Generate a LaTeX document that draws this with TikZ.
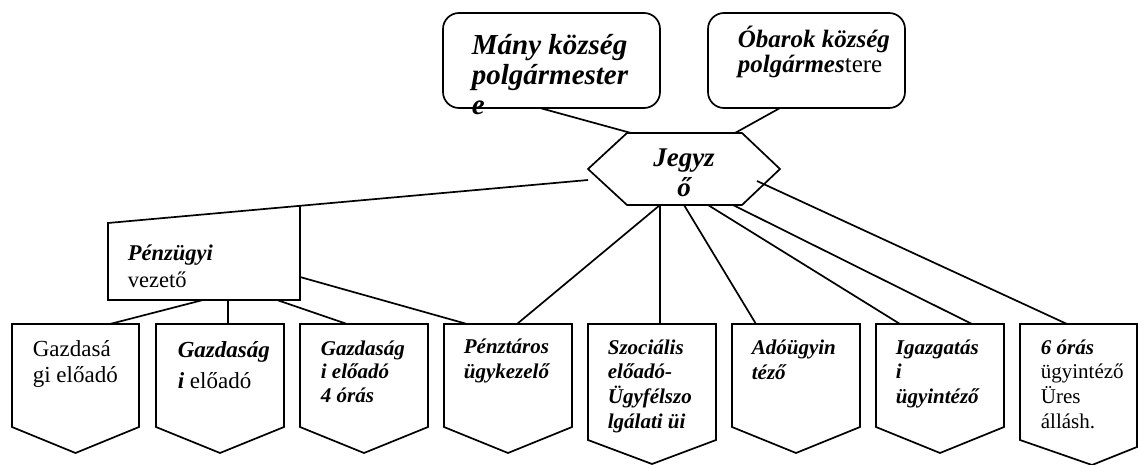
\documentclass[tikz,border=0pt]{standalone}
\usepackage{fontspec}
\setmainfont{Liberation Serif}
\newcommand\BI{\bfseries\itshape}
\newcommand\mylines[2]{\vtop{\baselineskip=#1pt\lineskip=0pt\lineskiplimit=-100pt #2}}
\begin{document}
\begin{tikzpicture}[x=1pt,y=-1pt,line width=1.7pt,line join=miter,
  topbox/.style={draw,rounded corners=16pt,inner sep=0pt,minimum height=95pt},
  shapeline/.style={draw,line width=1.7pt},
  link/.style={draw,line width=1.7pt},
  txt/.style={anchor=base west,inner sep=0pt,font=\fontsize{21}{25}\selectfont}]
\clip (0,0) rectangle (1138,465);
\fill[white] (0,0) rectangle (1138,465);

% ---------- top boxes ----------
\node[topbox,minimum width=217pt] (many) at (551.5,60.5) {};
\node[topbox,minimum width=197pt] (obarok) at (806.5,60.5) {};
\node[txt,font=\fontsize{29}{30}\selectfont] (manytxt) at (471,55)
  {\mylines{30}{\hbox{\BI Mány község}\hbox{\BI polgármester}\hbox{\BI e}}};
\node[txt,font=\fontsize{25}{25}\selectfont] (obaroktxt) at (737,48)
  {\mylines{25}{\hbox{\BI Óbarok község}\hbox{{\BI polgármes}tere}}};

% ---------- hexagon ----------
\coordinate (hL) at (588,169);
\coordinate (hTL) at (627,133);
\coordinate (hTR) at (742,133);
\coordinate (hR) at (780,169);
\coordinate (hBR) at (742,205);
\coordinate (hBL) at (627,205);
\draw[shapeline] (hL)--(hTL)--(hTR)--(hR)--(hBR)--(hBL)--cycle;
\node[anchor=base,inner sep=0pt,font=\fontsize{27}{30}\selectfont] (jegyzo) at (684,167)
  {\mylines{30}{\hbox to 0pt{\hss\BI Jegyz\hss}\hbox to 0pt{\hss\BI ő\hss}}};

% connection points on hexagon
\coordinate (hM) at (631,133);
\coordinate (hO) at (735,133);
\coordinate (hW) at (588,180);
\coordinate (hE) at (757,181);
\coordinate (hB1) at (660,205);
\coordinate (hB2) at (684,205);
\coordinate (hB3) at (708,205);
\coordinate (hB4) at (733,205);

% top connectors
\coordinate (manyB) at (540,108);
\coordinate (obarokB) at (780,108);
\draw[link] (manyB) -- (hM);
\draw[link] (obarokB) -- (hO);

% ---------- Pénzügyi vezető box ----------
\coordinate (pTL) at (108,223);
\coordinate (pBL) at (108,300);
\coordinate (pBR) at (300,300);
\coordinate (pTR) at (300,205.8);
\draw[shapeline] (hW) -- (pTL) -- (pBL) -- (pBR) -- (pTR);
\node[txt,font=\fontsize{22.5}{28}\selectfont] (penzugyi) at (127,260)
  {\mylines{28}{\hbox{\BI Pénzügyi}\hbox{vezető}}};

% ---------- bottom boxes ----------
\draw[shapeline] (12,324) -- (139,324) -- (139,427) -- (75.5,453) -- (12,427) -- cycle;
\draw[shapeline] (156,324) -- (284,324) -- (284,427) -- (220,453) -- (156,427) -- cycle;
\draw[shapeline] (300,324) -- (428,324) -- (428,427) -- (364,453) -- (300,427) -- cycle;
\draw[shapeline] (444,324) -- (572,324) -- (572,427) -- (508,453) -- (444,427) -- cycle;
\draw[shapeline] (588,324) -- (716,324) -- (716,440) -- (652,464) -- (588,440) -- cycle;
\draw[shapeline] (732,324) -- (860,324) -- (860,427) -- (796,453) -- (732,427) -- cycle;
\draw[shapeline] (876,324) -- (1004,324) -- (1004,427) -- (940,453) -- (876,427) -- cycle;
\draw[shapeline] (1020,324) -- (1137,324) -- (1137,447) -- (1092,465) -- (1020,440) -- cycle;

% box texts
\node[txt,font=\fontsize{23}{26}\selectfont] (b1) at (32,356)
  {\mylines{26}{\hbox{Gazdasá}\hbox{gi előadó}}};
\node[txt,font=\fontsize{23}{31}\selectfont] (b2) at (177,357)
  {\mylines{31}{\hbox{\BI Gazdaság}\hbox{{\BI i} előadó}}};
\node[txt] (b3) at (320,355)
  {\mylines{23.5}{\hbox{\BI Gazdaság}\hbox{\BI i előadó}\hbox{\BI 4 órás}}};
\node[txt] (b4) at (463,353)
  {\mylines{25}{\hbox{\BI Pénztáros}\hbox{\BI ügykezelő}}};
\node[txt] (b5) at (607,354)
  {\mylines{24.7}{\hbox{\BI Szociális}\hbox{\BI előadó-}\hbox{\BI Ügyfélszo}\hbox{\BI lgálati üi}}};
\node[txt] (b6) at (751,354)
  {\mylines{25}{\hbox{\BI Adóügyin}\hbox{\BI téző}}};
\node[txt] (b7) at (895,354)
  {\mylines{24.5}{\hbox{\BI Igazgatás}\hbox{\BI i}\hbox{\BI ügyintéző}}};
\node[txt] (b8) at (1040,354)
  {\mylines{24.7}{\hbox{\BI 6 órás}\hbox{ügyintéző}\hbox{Üres}\hbox{állásh.}}};

% box top connection points
\coordinate (t1) at (110,324);
\coordinate (t2) at (228,324);
\coordinate (t3) at (347,324);
\coordinate (t4a) at (467,324);
\coordinate (t4b) at (517,324);
\coordinate (t5) at (660,324);
\coordinate (t6) at (756,324);
\coordinate (t7a) at (900,324);
\coordinate (t7b) at (972,324);
\coordinate (t8) at (1067,324);

% Pénzügyi connection points
\coordinate (pb1) at (203,300);
\coordinate (pb2) at (228,300);
\coordinate (pb3) at (277,300);
\coordinate (pr) at (300,277);

% connectors
\draw[link] (pb1) -- (t1);
\draw[link] (pb2) -- (t2);
\draw[link] (pb3) -- (t3);
\draw[link] (pr) -- (t4a);
\draw[link] (hB1) -- (t4b);
\draw[link] (hB1) -- (t5);
\draw[link] (hB2) -- (t6);
\draw[link] (hB3) -- (t7a);
\draw[link] (hB4) -- (t7b);
\draw[link] (hE) -- (t8);
\end{tikzpicture}
\end{document}
